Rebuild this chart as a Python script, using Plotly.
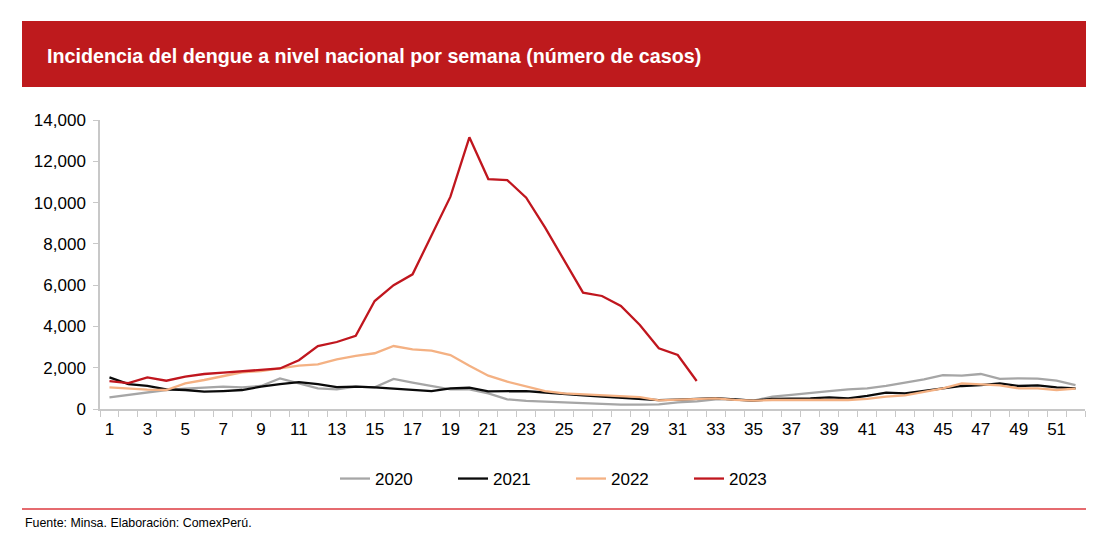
import plotly.graph_objects as go

weeks = list(range(1, 53))

y2020 = [565, 680, 790, 920, 985, 1030, 1080, 1050, 1115, 1485,
         1245, 1000, 950, 1080, 1050, 1455, 1275, 1130, 950, 950,
         760, 470, 390, 355, 325, 260, 240, 210, 210, 225,
         325, 370, 470, 470, 405, 600, 680, 790, 870, 950,
         1000, 1115, 1275, 1440, 1645, 1620, 1695, 1455, 1485, 1470,
         1370, 1160]

y2021 = [1535, 1210, 1115, 950, 920, 840, 870, 920, 1080, 1210,
         1300, 1200, 1060, 1080, 1050, 1000, 950, 870, 1000, 1030,
         850, 870, 870, 800, 720, 660, 600, 545, 510, 430,
         450, 470, 525, 460, 405, 485, 485, 515, 565, 515,
         640, 790, 760, 870, 970, 1115, 1160, 1245, 1115, 1145,
         1050, 1000]

y2022 = [1050, 985, 935, 920, 1245, 1405, 1600, 1780, 1840, 1960,
         2100, 2160, 2400, 2570, 2700, 3050, 2890, 2830, 2615, 2100,
         1615, 1325, 1080, 870, 760, 710, 645, 615, 580, 420,
         450, 485, 510, 440, 405, 435, 435, 450, 450, 435,
         490, 600, 660, 820, 1000, 1245, 1210, 1145, 1000, 1000,
         920, 985]

y2023 = [1350, 1250, 1530, 1370, 1565, 1695, 1760, 1825, 1890, 1965,
         2360, 3050, 3245, 3550, 5230, 6000, 6525, 8430, 10285, 13160,
         11140, 11090, 10240, 8785, 7220, 5635, 5475, 4990, 4070, 2940,
         2615, 1355]

series = [("2020", y2020, "#A6A6A6"),
          ("2021", y2021, "#0A0A0A"),
          ("2022", y2022, "#F4B183"),
          ("2023", y2023, "#C0161E")]

title_text = "Incidencia del dengue a nivel nacional por semana (número de casos)"
source_text = "Fuente: Minsa. Elaboración: ComexPerú."
tick_weeks = list(range(1, 53, 2))

FONT = "Liberation Sans, Arial, sans-serif"

fig = go.Figure()
for name, vals, color in series:
    fig.add_trace(go.Scatter(x=weeks[:len(vals)], y=vals, name=name, mode="lines",
                             line=dict(color=color, width=2.3)))

# page body has an 8px margin; work in reference pixel coordinates and shift
OFF = 8
W, H = 1104 - 2 * OFF, 548 - 2 * OFF
PL, PR, PT, PB = 100, 1085, 120, 409   # plot area in reference pixels
L, R, T, B = PL - OFF, W - (PR - OFF), PT - OFF, H - (PB - OFF)
pw, ph = PR - PL, PB - PT

def px(x):
    return (x - PL) / pw

def py(y):
    return (PB - y) / ph

fig.update_layout(
    width=W, height=H,
    margin=dict(l=L, r=R, t=T, b=B),
    paper_bgcolor="white", plot_bgcolor="white",
    font=dict(family=FONT, color="#000000", size=17),
    showlegend=True,
    legend=dict(orientation="h", x=px(335), y=py(479), xanchor="left", yanchor="middle",
                font=dict(size=17, family=FONT), entrywidth=73, entrywidthmode="pixels",
                bgcolor="rgba(0,0,0,0)"),
    xaxis=dict(range=[0.5, 52.5], tickvals=tick_weeks, ticktext=[str(w) for w in tick_weeks],
               showgrid=False, zeroline=False, showline=True, linecolor="#C8C8C8", linewidth=1.5,
               ticks="", ticklabelstandoff=4,
               tickfont=dict(size=17, family=FONT, color="#000000"),
               minor=dict(tick0=0.5, dtick=1, ticks="outside", ticklen=6, tickcolor="#C8C8C8",
                          tickwidth=1.2, showgrid=False)),
    yaxis=dict(range=[0, 14000], dtick=2000, tickformat=",", showgrid=False, zeroline=False,
               showline=True, linecolor="#C8C8C8", linewidth=1.5, ticks="outside", ticklen=5,
               tickcolor="#C8C8C8", tickwidth=1.2, ticklabelstandoff=4,
               tickfont=dict(size=17, family=FONT, color="#000000")),
)

fig.add_shape(type="rect", xref="paper", yref="paper", x0=px(22), x1=px(1086),
              y0=py(87), y1=py(21), fillcolor="#BE1A1D", line=dict(width=0), layer="below")
fig.add_annotation(xref="paper", yref="paper", x=px(45), y=py(56), xanchor="left", yanchor="middle",
                   text="<b>" + title_text + "</b>", showarrow=False,
                   font=dict(size=19.7, color="white", family=FONT))
fig.add_shape(type="line", xref="paper", yref="paper", x0=px(22), x1=px(1086),
              y0=py(509), y1=py(509), line=dict(color="#DC3A3F", width=1.5))
fig.add_annotation(xref="paper", yref="paper", x=px(23), y=py(523), xanchor="left", yanchor="middle",
                   text=source_text, showarrow=False,
                   font=dict(size=12.4, color="#000000", family=FONT))

fig.write_html("out.html")
